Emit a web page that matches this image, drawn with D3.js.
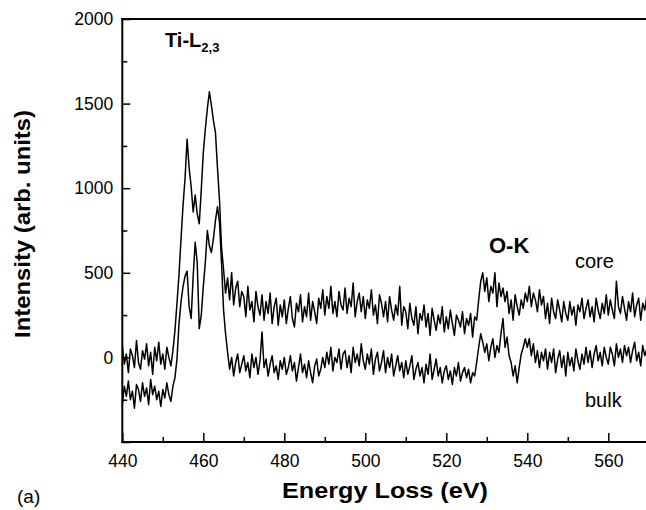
<!DOCTYPE html>
<html>
<head>
<meta charset="utf-8">
<script src="https://cdn.jsdelivr.net/npm/d3@7"></script>
<style>
  html, body { margin: 0; padding: 0; background: #fff; }
  svg { display: block; overflow: hidden; }
  text { font-family: "Liberation Sans", Arial, Helvetica, sans-serif; fill: #000; }
</style>
</head>
<body>
<svg id="chart" width="646" height="510"></svg>
<script>
// ---------- data ----------
const energyStart = 440, energyEnd = 570, energyStep = 0.5;
const energy = d3.range(energyStart, energyEnd + energyStep / 2, energyStep);

// "core" spectrum (arb. units), one value per 0.5 eV from 440 to 570 eV
const coreValues = [
  70, -40, 20, -90, 50, 10, -60, 100, -30, -70,
  40, -10, 80, -50, 30, -100, 60, -20, 90, -40,
  20, -70, 60, 0, -50, 40, 160, 320, 490, 700,
  900, 1060, 1290, 1120, 1010, 860, 960, 850, 790, 990,
  1210, 1350, 1470, 1570, 1490, 1400, 1330, 1120, 930, 650,
  520, 380, 470, 340, 500, 310, 410, 450, 300, 390,
  360, 240, 420, 280, 330, 210, 390, 300, 250, 370,
  220, 330, 260, 380, 200, 300, 350, 190, 310, 240,
  340, 200, 290, 360, 230, 180, 320, 270, 370, 210,
  300, 240, 380, 220, 330, 270, 200, 350, 290, 400,
  250, 360, 290, 420, 260, 330, 240, 390, 310, 280,
  410, 260, 350, 300, 440, 240, 330, 380, 270, 360,
  230, 340, 290, 400, 250, 310, 200, 370, 320, 240,
  330, 210, 360, 280, 220, 310, 250, 420, 190, 300,
  270, 170, 320, 230, 190, 300, 140, 260, 220, 310,
  180, 260, 130, 290, 220, 160, 250, 200, 300, 150,
  240, 170, 280, 200, 130, 250, 220, 180, 270, 140,
  230, 190, 260, 120, 240, 220, 340, 450, 500, 390,
  470, 330, 420, 380, 500, 300, 440, 360, 410, 330,
  390, 260, 340, 220, 370, 300, 250, 340, 290, 380,
  330, 420, 300, 380, 340, 270, 400, 310, 360, 230,
  320, 200, 350, 270, 230, 340, 280, 210, 330, 260,
  220, 330, 250, 300, 190, 310, 270, 350, 230, 290,
  340, 240, 300, 210, 350, 280, 230, 320, 260, 370,
  250, 340, 280, 230, 450, 300, 260, 360, 290, 220,
  330, 270, 380, 240, 310, 350, 220, 320, 280, 360,
  300
];

// "bulk" spectrum (arb. units), one value per 0.5 eV from 440 to 570 eV
const bulkValues = [
  -280, -170, -230, -140, -250, -200, -300, -160, -190, -260,
  -150, -230, -180, -280, -130, -220, -170, -250, -200, -290,
  -190, -240, -150, -220, -260, -170, -120, -10, 200, 330,
  420, 480, 510, 300, 230, 480, 680, 560, 170, 250,
  420, 560, 750, 660, 620, 700, 810, 890, 800, 560,
  280, 140, 30, -70, 0, -110, -30, 20, -90, -40,
  10, -80, -30, -120, 20, -60, 0, -100, -20, 150,
  -60, -10, -110, -40, 10, -90, -50, -130, -20, -70,
  0, -100, -60, 10, -80, -30, -140, -60, 20, -90,
  -40, -120, -20, -90, -150, -50, -10, -110, -70, 0,
  -60, 30, -40, 60, -80, 0, -30, 50, -70, 20,
  40, -60, 10, -90, 60, -30, 20, -50, 80, -20,
  -70, 20, -40, 50, -100, -10, 30, -80, -30, 40,
  -90, 0, -60, 20, -110, -50, 10, -80, -30, -120,
  -20, -100, -50, 10, -130, -70, -30, -110, -60, -150,
  -40, -100, 20, -130, -70, -10, -110, -60, -150, -80,
  -50, -130, -80, -160, -60, -110, -30, -140, -90, -60,
  -120, -70, -150, -90, -110, -30, 60, 140, 90, 30,
  80, -20, 60, 110, 0, 70, 30, 140, 230, 60,
  120, 10, -30, -110, -50, -150, -60, 20, 60, 110,
  60, 110, 10, 80, -30, 40, -60, 30, -20, 50,
  -70, 30, -30, 50, -90, -10, 40, -60, 10, -110,
  30, -50, 0, -80, 50, -20, -70, 20, -40, 60,
  -30, 40, -60, 20, 70, -20, 30, -50, 60, 0,
  -40, 60, 20, -50, 80, 0, 50, -30, 70, 10,
  60, -30, 40, 90, -20, 30, -50, 70, 10, 50,
  20
];

const xMajorTicks = [440, 460, 480, 500, 520, 540, 560];
const xMinorTicks = [450, 470, 490, 510, 530, 550, 570];
const yMajorTicks = [-500, 0, 500, 1000, 1500, 2000];
const yMinorTicks = [-250, 250, 750, 1250, 1750];
const yTickLabels = ["", "0", "500", "1000", "1500", "2000"];

const xTitle = "Energy Loss (eV)";
const yTitle = "Intensity (arb. units)";
const seriesLabels = { core: "core", bulk: "bulk" };

// ---------- layout ----------
const svg = d3.select("#chart");
const plot = { left: 122.3, right: 648.8, top: 19, bottom: 442 };

const x = d3.scaleLinear().domain([440, 570]).range([plot.left, plot.right]);
const y = d3.scaleLinear().domain([-500, 2000]).range([plot.bottom, plot.top]);

const coreData = energy.map((e, i) => ({ e, v: coreValues[i] }));
const bulkData = energy.map((e, i) => ({ e, v: bulkValues[i] }));

const line = d3.line().x(d => x(d.e)).y(d => y(d.v));

svg.append("defs").append("clipPath").attr("id", "clip")
  .append("rect").attr("x", plot.left).attr("y", plot.top)
  .attr("width", plot.right - plot.left).attr("height", plot.bottom - plot.top);

const g = svg.append("g").attr("clip-path", "url(#clip)");
[coreData, bulkData].forEach(data => {
  g.append("path").datum(data)
    .attr("d", line)
    .attr("fill", "none")
    .attr("stroke", "#000")
    .attr("stroke-width", 1.5)
    .attr("stroke-linejoin", "round");
});

// ---------- axes ----------
const fontTick = 17.5;

const xAxis = d3.axisBottom(x).tickValues(xMajorTicks).tickSize(-9).tickPadding(13)
  .tickFormat(d3.format("d"));
const gx = svg.append("g").attr("transform", `translate(0,${plot.bottom})`).call(xAxis);
gx.select(".domain").remove();
gx.selectAll(".tick line").attr("stroke", "#000").attr("stroke-width", 1.5);
gx.selectAll(".tick text").attr("font-size", fontTick).style("font-family", "Liberation Sans, Arial, sans-serif");

const gxm = svg.append("g").attr("transform", `translate(0,${plot.bottom})`)
  .call(d3.axisBottom(x).tickValues(xMinorTicks).tickSize(-5).tickFormat(""));
gxm.select(".domain").remove();
gxm.selectAll(".tick line").attr("stroke", "#000").attr("stroke-width", 1.5);

const yAxis = d3.axisLeft(y).tickValues(yMajorTicks).tickSize(-8).tickPadding(9)
  .tickFormat((d, i) => yTickLabels[i]);
const gy = svg.append("g").attr("transform", `translate(${plot.left},0)`).call(yAxis);
gy.select(".domain").remove();
gy.selectAll(".tick line").attr("stroke", "#000").attr("stroke-width", 1.5);
gy.selectAll(".tick text").attr("font-size", fontTick).style("font-family", "Liberation Sans, Arial, sans-serif");

const gym = svg.append("g").attr("transform", `translate(${plot.left},0)`)
  .call(d3.axisLeft(y).tickValues(yMinorTicks).tickSize(-5).tickFormat(""));
gym.select(".domain").remove();
gym.selectAll(".tick line").attr("stroke", "#000").attr("stroke-width", 1.5);

// frame lines (left, bottom, top)
svg.append("line").attr("x1", plot.left).attr("x2", plot.left)
  .attr("y1", plot.top - 1).attr("y2", plot.bottom + 1)
  .attr("stroke", "#000").attr("stroke-width", 2);
svg.append("line").attr("x1", plot.left - 1).attr("x2", 646)
  .attr("y1", plot.bottom).attr("y2", plot.bottom)
  .attr("stroke", "#000").attr("stroke-width", 2);
svg.append("line").attr("x1", plot.left - 1).attr("x2", 646)
  .attr("y1", plot.top).attr("y2", plot.top)
  .attr("stroke", "#000").attr("stroke-width", 2);

// ---------- titles & annotations ----------
svg.append("text")
  .attr("x", 385).attr("y", 498)
  .attr("text-anchor", "middle")
  .attr("font-size", 22).attr("font-weight", "bold")
  .attr("textLength", 206).attr("lengthAdjust", "spacingAndGlyphs")
  .text(xTitle);

svg.append("text")
  .attr("transform", "translate(30,224) rotate(-90)")
  .attr("text-anchor", "middle")
  .attr("font-size", 22).attr("font-weight", "bold")
  .attr("textLength", 228).attr("lengthAdjust", "spacingAndGlyphs")
  .text(yTitle);

svg.append("text")
  .attr("x", 17).attr("y", 503)
  .attr("font-size", 19)
  .text("(a)");

const ti = svg.append("text")
  .attr("x", 165).attr("y", 47)
  .attr("font-size", 20).attr("font-weight", "bold");
ti.append("tspan").text("Ti-L");
ti.append("tspan").attr("font-size", 13).attr("dy", 5).text("2,3");

svg.append("text")
  .attr("x", 489).attr("y", 253)
  .attr("font-size", 22).attr("font-weight", "bold")
  .text("O-K");

svg.append("text")
  .attr("x", 575).attr("y", 268)
  .attr("font-size", 20)
  .text(seriesLabels.core);

svg.append("text")
  .attr("x", 585).attr("y", 407)
  .attr("font-size", 20)
  .text(seriesLabels.bulk);
</script>
</body>
</html>
